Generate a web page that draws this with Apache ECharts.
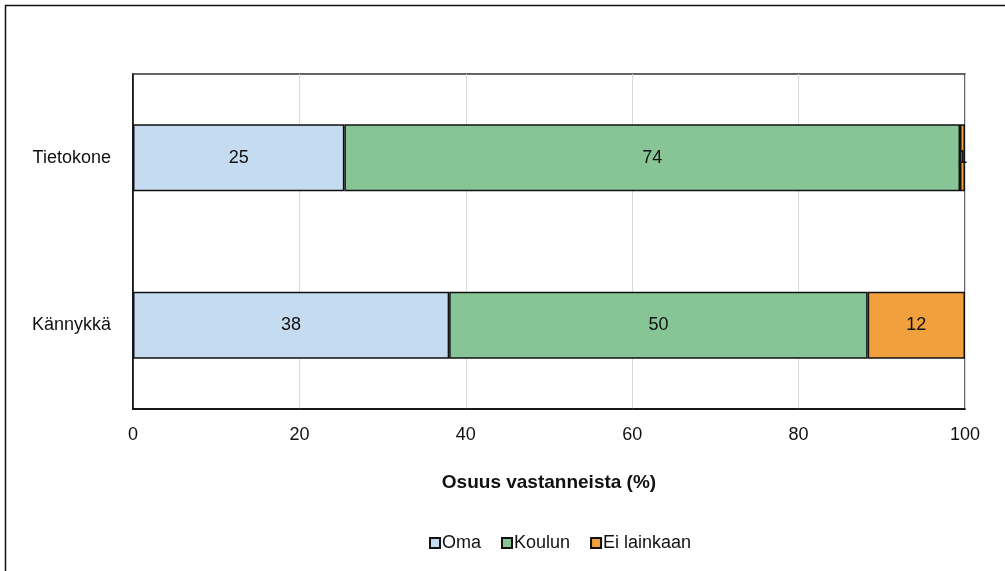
<!DOCTYPE html>
<html><head><meta charset="utf-8">
<script src="https://cdn.jsdelivr.net/npm/echarts@6/dist/echarts.min.js"></script>
<style>html,body{margin:0;padding:0;background:#fff}#c{width:1005px;height:571px}</style>
</head><body><div id="c"></div>
<script>
const categories = ['Tietokone', 'Kännykkä'];
const seriesNames = ['Oma', 'Koulun', 'Ei lainkaan'];
const oma = [25.4, 38.0];
const koulun = [74.0, 50.3];
const eiLainkaan = [0.6, 11.7];
const xTicks = [0, 20, 40, 60, 80, 100];
const colors = ['#c5dbf0', '#88c596', '#f0a03c'];
const values = [oma, koulun, eiLainkaan];
const font = '"Liberation Sans", Arial, sans-serif';
const fs = 18;

const chart = echarts.init(document.getElementById('c'));
chart.setOption({
  animation: false,
  textStyle: { fontFamily: font },
  graphic: [{ type: 'rect', shape: { x: 5.5, y: 5.5, width: 1020, height: 600 }, style: { fill: 'none', stroke: '#111', lineWidth: 1.5 }, silent: true }],
  grid: { left: 133, right: 40, top: 74, bottom: 162, show: true, borderColor: '#333', borderWidth: 1.5, backgroundColor: 'transparent' },
  legend: {
    top: 529, left: 424, itemWidth: 10, itemHeight: 10, itemGap: 20, icon: 'rect',
    textStyle: { fontSize: fs, color: '#111', fontFamily: font, padding: [0, 0, 0, -3] },
    data: seriesNames
  },
  xAxis: {
    type: 'value', min: xTicks[0], max: xTicks[xTicks.length - 1], interval: 20,
    name: 'Osuus vastanneista (%)', nameLocation: 'middle', nameGap: 64,
    nameTextStyle: { fontSize: 19, fontWeight: 'bold', color: '#111', fontFamily: font },
    axisLine: { show: true, lineStyle: { color: '#000', width: 1.5 } },
    axisTick: { show: false },
    axisLabel: { fontSize: fs, color: '#111', margin: 17, fontFamily: font },
    splitLine: { show: true, lineStyle: { color: '#d9d9d9', width: 1 } }
  },
  yAxis: {
    type: 'category', data: categories, inverse: true,
    axisLine: { show: true, lineStyle: { color: '#000', width: 1.5 } },
    axisTick: { show: false },
    axisLabel: { fontSize: fs, color: '#111', margin: 22, fontFamily: font }
  },
  series: seriesNames.map((n, i) => ({
    name: n, type: 'bar', stack: 'a', data: values[i], barWidth: '40%',
    itemStyle: { color: colors[i], borderColor: '#111', borderWidth: 1.5 },
    label: { show: true, position: 'inside', fontSize: fs, color: '#111', fontFamily: font,
      formatter: p => Math.round(p.value) }
  }))
});
</script></body></html>
